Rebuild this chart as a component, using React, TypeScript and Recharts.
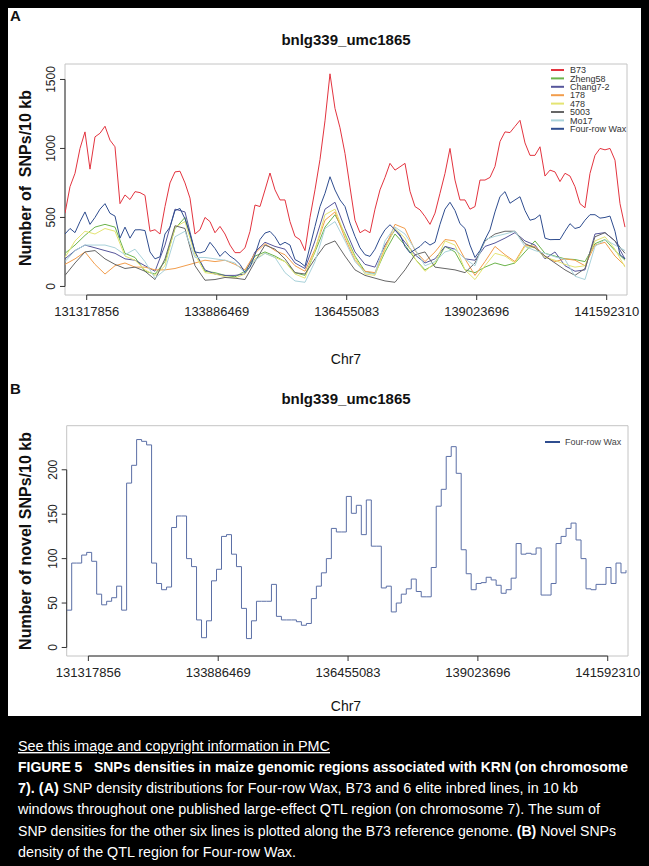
import React from 'react'
import { LineChart, Line, XAxis, YAxis, ReferenceLine, ReferenceArea } from 'recharts'

// genomic range of the QTL (Chr7), one fine step ~ 5 px on the plot
const X_MIN = 130889100
const X_MAX = 141993400
const STEP = 98790
const tickPositions = [131317856, 133886469, 136455083, 139023696, 141592310]

// panel A, fine series (113 windows)
const b73 = [
  531, 723, 820, 1000, 1120, 850, 1084, 1110, 1161, 1060,
  1012, 600, 663, 630, 687, 680, 660, 400, 411, 380,
  579, 750, 830, 835, 750, 640, 380, 411, 500, 470,
  389, 435, 380, 300, 245, 245, 280, 399, 590, 579,
  699, 822, 700, 627, 627, 470, 363, 339, 260, 500,
  700, 920, 1200, 1541, 1290, 1150, 964, 720, 480, 389,
  411, 389, 560, 700, 790, 892, 843, 867, 892, 690,
  579, 555, 507, 450, 531, 675, 819, 1000, 771, 627,
  627, 560, 579, 771, 771, 790, 870, 1050, 1120, 1115,
  1160, 1204, 1040, 950, 950, 1012, 800, 843, 830, 760,
  820, 800, 723, 600, 570, 819, 950, 1000, 990, 1000,
  915, 600, 430,
]
const fourRowWax = [
  380, 420, 390, 470, 540, 450, 500, 560, 600, 530,
  510, 350, 430, 350, 410, 411, 405, 250, 200, 215,
  380, 430, 550, 565, 490, 380, 250, 243, 255, 320,
  275, 218, 255, 220, 195, 160, 100, 140, 230, 340,
  387, 399, 360, 300, 320, 300, 195, 175, 146, 290,
  435, 579, 675, 795, 699, 627, 579, 459, 363, 280,
  230, 218, 270, 350, 411, 447, 411, 375, 290, 243,
  267, 290, 327, 300, 320, 450, 560, 610, 550, 455,
  420, 300, 210, 260, 340, 410, 540, 651, 687, 603,
  627, 650, 550, 480, 490, 519, 350, 339, 340, 340,
  400, 455, 420, 430, 480, 520, 520, 495, 500, 510,
  400, 230, 200,
]

// panel A, coarse series (57 windows, every second step)
const zheng58 = [
  240, 300, 370, 430, 450, 430, 240, 210, 110, 90,
  180, 420, 500, 250, 110, 100, 80, 70, 110, 220,
  250, 220, 180, 100, 80, 250, 430, 520, 380, 220,
  110, 90, 250, 380, 300, 200, 120, 160, 290, 250,
  120, 100, 140, 170, 150, 170, 250, 330, 240, 220,
  200, 195, 180, 310, 340, 260, 190,
]
const chang72 = [
  200, 260, 300, 280, 260, 240, 200, 190, 150, 110,
  300, 560, 540, 250, 120, 90, 80, 80, 90, 250,
  320, 290, 270, 170, 130, 330, 560, 610, 420, 250,
  160, 140, 300, 410, 320, 230, 170, 200, 290, 270,
  200, 190, 290, 315, 350, 390, 330, 300, 200, 250,
  150, 110, 120, 380, 390, 330, 200,
]
const line178 = [
  160, 200, 250, 160, 90, 150, 170, 140, 140, 120,
  120, 130, 150, 170, 190, 180, 190, 160, 120, 240,
  310, 260, 230, 150, 110, 270, 480, 540, 350, 190,
  110, 100, 280, 450, 420, 260, 180, 250, 340, 330,
  200, 80, 180, 290, 230, 180, 300, 290, 220, 180,
  200, 190, 150, 300, 320, 220, 150,
]
const line478 = [
  210, 330, 400, 380, 420, 400, 220, 190, 120, 80,
  150, 430, 470, 230, 100, 90, 70, 60, 90, 200,
  240, 210, 180, 90, 60, 260, 520, 560, 370, 210,
  90, 80, 270, 420, 350, 200, 110, 170, 330, 300,
  120, 50, 150, 240, 220, 170, 290, 280, 210, 190,
  160, 140, 150, 330, 360, 270, 140,
]
const line5003 = [
  80, 170, 250, 260, 200, 160, 130, 140, 110, 50,
  200, 440, 420, 150, 45, 50, 65, 60, 50, 180,
  300, 270, 200, 100, 90, 200, 300, 330, 220, 120,
  80, 60, 40, 30, 120, 230, 250, 140, 130, 120,
  100, 170, 330, 380, 400, 400, 310, 280, 220, 170,
  120, 80, 130, 360, 390, 330, 240,
]
const mo17 = [
  180, 260, 300, 300, 300, 280, 230, 270, 180, 60,
  120, 360, 400, 210, 210, 200, 190, 170, 100, 190,
  240, 210, 100, 40, 30, 180, 420, 470, 330, 180,
  100, 90, 330, 430, 380, 270, 150, 180, 250, 270,
  200, 150, 339, 363, 380, 400, 290, 260, 240, 215,
  195, 74, 50, 290, 339, 300, 260,
]

// panel B, novel SNPs of Four-row Wax (113 windows)
const novelFourRowWax = [
  42, 95, 95, 104, 107, 97, 60, 48, 52, 56,
  69, 42, 185, 205, 234, 232, 228, 95, 72, 65,
  68, 135, 148, 148, 100, 91, 31, 11, 30, 75,
  88, 125, 127, 105, 91, 44, 10, 30, 52, 52,
  52, 71, 35, 31, 31, 31, 29, 25, 27, 55,
  69, 84, 100, 134, 130, 130, 170, 151, 160, 127,
  166, 114, 114, 67, 69, 40, 50, 60, 66, 77,
  63, 57, 57, 90, 159, 178, 215, 226, 196, 110,
  83, 65, 72, 73, 79, 76, 70, 61, 65, 78,
  117, 105, 106, 105, 112, 59, 59, 72, 117, 125,
  134, 140, 121, 100, 66, 65, 71, 71, 90, 72,
  95, 84, 87,
]

const toRows = (values: number[], step: number) =>
  values.map((v, i) => ({ pos: X_MIN + i * step, v }))

const seriesA = [
  { name: 'B73', color: '#E3343F', rows: toRows(b73, STEP) },
  { name: 'Zheng58', color: '#6CB44C', rows: toRows(zheng58, STEP * 2) },
  { name: 'Chang7-2', color: '#56569B', rows: toRows(chang72, STEP * 2) },
  { name: '178', color: '#F29D4C', rows: toRows(line178, STEP * 2) },
  { name: '478', color: '#E4E472', rows: toRows(line478, STEP * 2) },
  { name: '5003', color: '#666666', rows: toRows(line5003, STEP * 2) },
  { name: 'Mo17', color: '#A9D2DA', rows: toRows(mo17, STEP * 2) },
  { name: 'Four-row Wax', color: '#2F4D8F', rows: toRows(fourRowWax, STEP) },
]
const novelRows = toRows(novelFourRowWax, STEP)

const FONT = '"Liberation Sans", Arial, sans-serif'
const captionFont = '"Liberation Sans Narrow", "Liberation Sans", Arial, sans-serif'

const YTick = ({ x, y, payload }: any) => (
  <text x={x - 3} y={y} transform={`rotate(-90, ${x - 3}, ${y})`} textAnchor="middle"
    fontSize={12} fill="#222" fontFamily={FONT}>{payload.value}</text>
)
const XTick = ({ x, y, payload }: any) => (
  <text x={x} y={y + 14} textAnchor="middle" fontSize={13} fill="#222" fontFamily={FONT}>
    {payload.value}
  </text>
)

export default function App() {
  const aDomain: [number, number] = [-62, 1612]
  const bDomain: [number, number] = [-9.6, 249.6]

  return (
    <div style={{ position: 'absolute', left: 0, top: 0, width: 649, height: 866, background: '#000', overflow: 'hidden' }}>
      <div style={{ position: 'absolute', left: 8, top: 8, width: 633, height: 708, background: '#fff' }} />

      {/* Panel A */}
      <div style={{ position: 'absolute', left: 0, top: 0 }}>
        <LineChart width={649} height={340} margin={{ top: 64, right: 22, bottom: 15, left: 25 }}>
          <XAxis type="number" dataKey="pos" domain={[X_MIN, X_MAX]} ticks={tickPositions}
            allowDataOverflow axisLine={false} tickSize={5} tickLine={{ stroke: '#333' }}
            height={30} tick={<XTick />} interval={0} />
          <YAxis type="number" domain={aDomain} ticks={[0, 500, 1000, 1500]} allowDataOverflow
            axisLine={false} tickSize={5} tickLine={{ stroke: '#333' }} width={40} tick={<YTick />} interval={0} />
          <ReferenceArea x1={X_MIN} x2={X_MAX} y1={aDomain[0]} y2={aDomain[1]} fill="none" fillOpacity={0}
            stroke="#C4C4C4" ifOverflow="visible" />
          <ReferenceLine segment={[{ x: X_MIN, y: 0 }, { x: X_MIN, y: 1500 }]} stroke="#333" ifOverflow="visible" />
          <ReferenceLine segment={[{ x: tickPositions[0], y: aDomain[0] }, { x: tickPositions[4], y: aDomain[0] }]}
            stroke="#333" ifOverflow="visible" />
          {seriesA.map(s => (
            <Line key={s.name} data={s.rows} dataKey="v" name={s.name} type="linear" stroke={s.color}
              strokeWidth={1} dot={false} isAnimationActive={false} />
          ))}
        </LineChart>
      </div>

      {/* Panel B */}
      <div style={{ position: 'absolute', left: 0, top: 360 }}>
        <LineChart width={649} height={320} margin={{ top: 65.7, right: 21, bottom: 0, left: 26.7 }}>
          <XAxis type="number" dataKey="pos" domain={[X_MIN, X_MAX]} ticks={tickPositions}
            allowDataOverflow axisLine={false} tickSize={5} tickLine={{ stroke: '#333' }}
            height={24} tick={<XTick />} interval={0} />
          <YAxis type="number" domain={bDomain} ticks={[0, 50, 100, 150, 200]} allowDataOverflow
            axisLine={false} tickSize={5} tickLine={{ stroke: '#333' }} width={40} tick={<YTick />} interval={0} />
          <ReferenceArea x1={X_MIN} x2={X_MAX} y1={bDomain[0]} y2={bDomain[1]} fill="none" fillOpacity={0}
            stroke="#C4C4C4" ifOverflow="visible" />
          <ReferenceLine segment={[{ x: X_MIN, y: 0 }, { x: X_MIN, y: 200 }]} stroke="#333" ifOverflow="visible" />
          <ReferenceLine segment={[{ x: tickPositions[0], y: bDomain[0] }, { x: tickPositions[4], y: bDomain[0] }]}
            stroke="#333" ifOverflow="visible" />
          <Line data={novelRows} dataKey="v" name="Four-row Wax" type="stepAfter" stroke="#5B6FA6"
            strokeWidth={1} dot={false} isAnimationActive={false} />
        </LineChart>
      </div>

      {/* titles, axis labels, legends, caption */}
      <svg width={649} height={866} style={{ position: 'absolute', left: 0, top: 0, pointerEvents: 'none' }}>
        <g fontFamily={FONT} fill="#111">
          <text x={10} y={21} fontSize={15} fontWeight="bold">A</text>
          <text x={346} y={45} fontSize={15} fontWeight="bold" textAnchor="middle">bnlg339_umc1865</text>
          <text x={31} y={178} fontSize={16} fontWeight="bold" textAnchor="middle"
            transform="rotate(-90, 31, 178)" style={{ whiteSpace: 'pre' }}>Number of  SNPs/10 kb</text>
          <text x={346} y={364} fontSize={14} textAnchor="middle">Chr7</text>

          <text x={10} y={394} fontSize={15} fontWeight="bold">B</text>
          <text x={346} y={404} fontSize={15} fontWeight="bold" textAnchor="middle">bnlg339_umc1865</text>
          <text x={31} y={541} fontSize={16} fontWeight="bold" textAnchor="middle"
            transform="rotate(-90, 31, 541)">Number of novel SNPs/10 kb</text>
          <text x={346} y={711} fontSize={14} textAnchor="middle">Chr7</text>

          {seriesA.map((s, i) => (
            <g key={s.name}>
              <line x1={551} x2={564} y1={70 + i * 8.4} y2={70 + i * 8.4} stroke={s.color} strokeWidth={2} />
              <text x={570} y={73.2 + i * 8.4} fontSize={9} fill="#333">{s.name}</text>
            </g>
          ))}
          <line x1={545} x2={560} y1={442} y2={442} stroke="#2F4D8F" strokeWidth={2} />
          <text x={565} y={445} fontSize={9} fill="#444">Four-row Wax</text>
        </g>

        <g fontFamily={captionFont} fill="#fff" fontSize={14}>
          <text x={18} y={751} textLength={312} lengthAdjust="spacingAndGlyphs"
            style={{ textDecoration: 'underline' }}>See this image and copyright information in PMC</text>
          <text x={18} y={772} textLength={610} lengthAdjust="spacingAndGlyphs" fontWeight="bold"
            style={{ whiteSpace: 'pre' }}>FIGURE 5   SNPs densities in maize genomic regions associated with KRN (on chromosome</text>
          <text x={18} y={793} textLength={560} lengthAdjust="spacingAndGlyphs">
            <tspan fontWeight="bold">7). (A)</tspan> SNP density distributions for Four-row Wax, B73 and 6 elite inbred lines, in 10 kb
          </text>
          <text x={18} y={814} textLength={582} lengthAdjust="spacingAndGlyphs">windows throughout one published large-effect QTL region (on chromosome 7). The sum of</text>
          <text x={18} y={836} textLength={598} lengthAdjust="spacingAndGlyphs">
            SNP densities for the other six lines is plotted along the B73 reference genome. <tspan fontWeight="bold">(B)</tspan> Novel SNPs
          </text>
          <text x={18} y={857} textLength={278} lengthAdjust="spacingAndGlyphs">density of the QTL region for Four-row Wax.</text>
        </g>
      </svg>
    </div>
  )
}
